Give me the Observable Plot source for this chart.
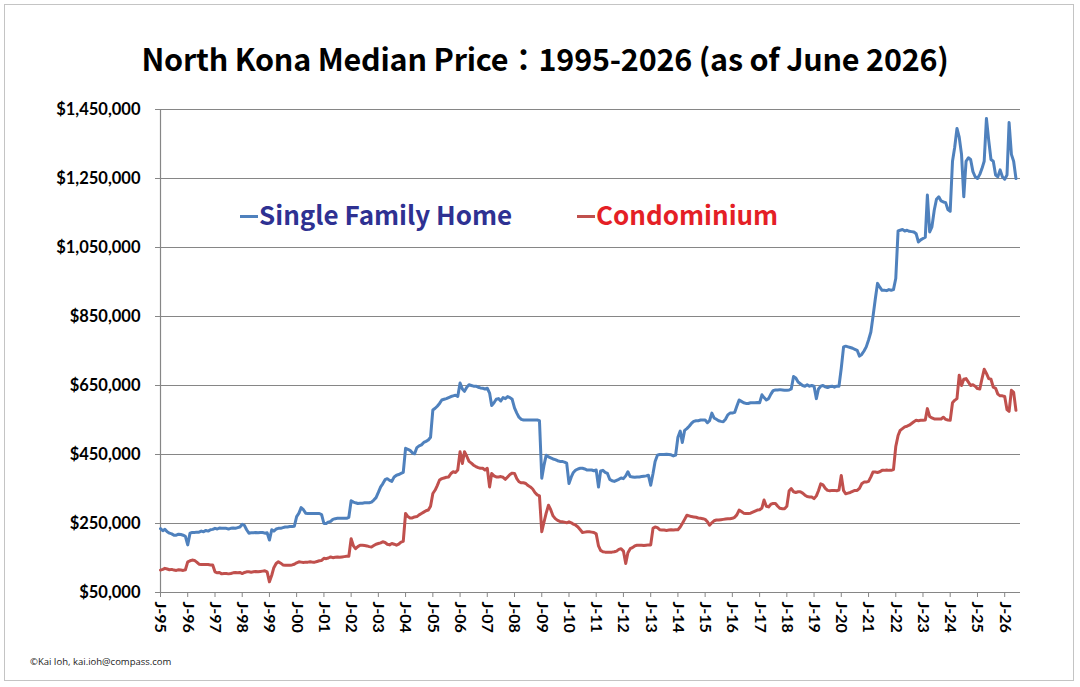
<!DOCTYPE html>
<html>
<head>
<meta charset="utf-8">
<script src="https://cdn.jsdelivr.net/npm/d3@7"></script>
<script src="https://cdn.jsdelivr.net/npm/@observablehq/plot@0.6"></script>
<style>
  html, body { margin: 0; padding: 0; background: #fff; }
  #page {
    position: relative; width: 1080px; height: 687px; overflow: hidden; background: #fff;
  }
  #border {
    position: absolute; left: 4px; top: 4px; width: 1070px; height: 677px;
    border: 1.5px solid #c4c4c4; box-sizing: border-box;
  }
  #title {
    position: absolute; left: 0; top: 36px; width: 1090px; text-align: center;
    font-family: "Noto Sans CJK JP", "Noto Sans", sans-serif; font-weight: 700;
    font-size: 30.5px; color: #000; letter-spacing: -0.2px;
  }
  #chart { position: absolute; left: 0; top: 95px; }
  .legend {
    position: absolute; top: 195px;
    font-family: "Noto Sans CJK JP", "Noto Sans", sans-serif; font-weight: 700; font-size: 26px;
    white-space: nowrap;
  }
  .swatch { display: inline-block; width: 18px; height: 3px; vertical-align: middle; margin-right: 1px; position: relative; top: -1px; }
  #footer {
    position: absolute; left: 30px; top: 655px;
    font-family: "Open Sans", sans-serif; font-size: 9.5px; color: #222;
  }
</style>
</head>
<body>
<div id="page">
  <div id="border"></div>
  <div id="title">North Kona Median Price：1995-2026 (as of June 2026)</div>
  <div id="chart"></div>
  <div class="legend" id="legSfh" style="left:240px;color:#2e3192"><span class="swatch" style="background:#4f81bd"></span>Single Family Home</div>
  <div class="legend" id="legCondo" style="left:577px;color:#e41f26"><span class="swatch" style="background:#c0504d"></span>Condominium</div>
  <div id="footer">©Kai Ioh, kai.ioh@compass.com</div>
</div>
<script>
// Monthly median prices in $ thousands, January 1995 through June 2026 (one row per year)
const startYear = 1995;

const singleFamily = [
  235, 229, 233, 226, 222, 220, 216, 216, 219, 218, 216, 213,
  188, 222, 224, 224, 225, 225, 228, 226, 230, 228, 232, 233,
  236, 234, 237, 236, 236, 236, 234, 236, 237, 236, 238, 240,
  248, 244, 232, 222, 223, 223, 224, 223, 224, 224, 222, 223,
  202, 232, 228, 234, 236, 236, 238, 240, 240, 241, 241, 242,
  270, 280, 296, 290, 280, 279, 279, 279, 279, 279, 279, 276,
  250, 250, 254, 256, 262, 264, 265, 265, 265, 265, 265, 268,
  316, 312, 310, 308, 309, 309, 310, 310, 310, 312, 318, 325,
  340, 356, 365, 377, 380, 375, 372, 385, 390, 392, 395, 398,
  468, 465, 462, 455, 452, 470, 475, 478, 485, 488, 492, 500,
  579, 584, 590, 598, 608, 610, 612, 615, 618, 620, 622, 618,
  657, 640, 633, 645, 652, 650, 648, 648, 645, 643, 642, 640,
  642, 628, 592, 600, 610, 612, 605, 615, 612, 618, 615, 610,
  585, 570, 558, 552, 550, 550, 550, 550, 550, 550, 550, 548,
  381, 420, 448, 443, 440, 437, 435, 432, 430, 430, 428, 425,
  366, 385, 398, 405, 408, 410, 410, 408, 405, 405, 405, 403,
  405, 356, 402, 404, 398, 395, 378, 374, 372, 375, 378, 382,
  380, 388, 400, 386, 385, 384, 385, 385, 386, 387, 388, 390,
  361, 395, 430, 448, 450, 450, 450, 451, 450, 449, 446, 448,
  500, 518, 485, 520, 525, 532, 540, 546, 548, 548, 550, 550,
  550, 542, 548, 570, 556, 552, 548, 546, 545, 552, 565, 570,
  570, 572, 590, 608, 604, 600, 598, 598, 600, 600, 600, 601,
  600, 623, 615, 608, 612, 625, 635, 637, 637, 638, 637, 636,
  636, 637, 640, 676, 672, 660, 655, 650, 648, 652, 648, 650,
  648, 612, 640, 648, 650, 646, 644, 647, 648, 645, 648, 648,
  700, 762, 764, 762, 760, 758, 755, 752, 735, 740, 750, 762,
  782, 805, 849, 900, 946, 935, 926, 926, 925, 928, 926, 928,
  960, 1098, 1100, 1102, 1098, 1100, 1097, 1096, 1095, 1090, 1066, 1072,
  1076, 1080, 1202, 1095, 1110, 1158, 1190, 1197, 1185, 1182, 1180, 1160,
  1155, 1300, 1340, 1395, 1370, 1320, 1197, 1300, 1310, 1305, 1270, 1255,
  1250, 1262, 1278, 1300, 1424, 1360, 1305, 1300, 1260, 1255, 1275, 1255,
  1248, 1260, 1412, 1320, 1300, 1250
];

const condominium = [
  115, 117, 120, 118, 116, 117, 115, 114, 116, 115, 114, 116,
  139, 142, 144, 143, 138, 132, 131, 131, 131, 131, 130, 130,
  110, 107, 108, 104, 105, 105, 104, 105, 107, 108, 107, 108,
  105, 108, 110, 110, 109, 110, 111, 110, 111, 112, 113, 110,
  81, 100, 122, 134, 139, 135, 130, 129, 129, 129, 130, 132,
  136, 139, 138, 137, 138, 138, 139, 138, 138, 140, 142, 143,
  149, 148, 150, 153, 151, 152, 153, 152, 153, 154, 155, 155,
  206, 185, 177, 183, 187, 187, 186, 185, 183, 182, 186, 190,
  192, 194, 197, 195, 190, 188, 192, 190, 187, 190, 196, 198,
  279, 270, 266, 266, 269, 270, 275, 279, 283, 287, 289, 300,
  337, 347, 360, 376, 380, 382, 384, 385, 395, 400, 398, 405,
  458, 424, 458, 445, 430, 425, 419, 415, 412, 410, 410, 405,
  410, 356, 395, 388, 385, 385, 386, 384, 378, 385, 392, 396,
  395, 380, 371, 368, 368, 366, 360, 356, 350, 340, 333, 330,
  226, 255, 280, 303, 290, 272, 264, 259, 256, 255, 254, 252,
  255, 252, 248, 245, 240, 232, 224, 225, 226, 226, 225, 224,
  220, 185, 172, 168, 167, 167, 167, 167, 168, 170, 175, 177,
  170, 134, 165, 177, 180, 185, 187, 187, 187, 186, 187, 188,
  188, 236, 240, 238, 232, 231, 231, 230, 231, 232, 231, 232,
  232, 240, 250, 262, 274, 272, 270, 269, 268, 266, 265, 264,
  262, 255, 245, 252, 258, 260, 260, 261, 262, 263, 264, 264,
  265, 268, 275, 289, 285, 280, 279, 279, 280, 283, 286, 289,
  290, 295, 318, 300, 298, 306, 308, 308, 300, 294, 293, 293,
  300, 345, 351, 342, 340, 342, 342, 338, 332, 328, 327, 327,
  322, 330, 345, 365, 362, 352, 346, 345, 346, 346, 345, 347,
  389, 345, 336, 338, 340, 343, 346, 346, 352, 365, 370, 370,
  372, 385, 399, 399, 398, 400, 404, 404, 405, 404, 404, 406,
  473, 505, 520, 525, 530, 532, 535, 540, 545, 549, 548, 549,
  549, 550, 583, 560, 556, 553, 553, 553, 553, 558, 552, 550,
  549, 600, 607, 612, 680, 650, 668, 670, 660, 650, 652, 648,
  641, 640, 668, 697, 685, 670, 668, 645, 642, 625, 620, 620,
  618, 580, 575, 636, 630, 578
];

// Axis ticks: price gridlines and yearly January marks
const priceTicks = [50000, 250000, 450000, 650000, 850000, 1050000, 1250000, 1450000];
const yearTicks = d3.range(1995, 2027).map(y => new Date(Date.UTC(y, 0, 1)));

const toRows = (values, series) =>
  values.map((v, i) => ({date: new Date(Date.UTC(startYear, i, 1)), price: v * 1000, series}));

const rows = [...toRows(singleFamily, "Single Family Home"), ...toRows(condominium, "Condominium")];

const xDomain = [new Date(Date.UTC(1995, 0, 1)), new Date(Date.UTC(2026, 7, 1))];
const fmtPrice = d3.format("$,");

const chart = Plot.plot({
  width: 1080,
  height: 555,
  marginLeft: 160,
  marginRight: 60,
  marginTop: 14,
  marginBottom: 58,
  style: {fontFamily: "Lato, sans-serif", fontWeight: "bold", fontSize: "16px", color: "#000", background: "transparent"},
  x: {type: "utc", domain: xDomain, label: null},
  y: {domain: [50000, 1450000], label: null},
  color: {domain: ["Single Family Home", "Condominium"], range: ["#4f81bd", "#c0504d"]},
  marks: [
    Plot.ruleY(priceTicks, {stroke: "#868686", strokeWidth: 1.2}),
    Plot.ruleX([xDomain[0]], {y1: 50000, y2: 1450000, stroke: "#868686", strokeWidth: 1.2}),
    Plot.axisY({ticks: priceTicks, tickFormat: fmtPrice, tickSize: 5, tickPadding: 15,
      stroke: "#868686", fontSize: 16.5, label: null}),
    Plot.axisX({ticks: yearTicks, tickFormat: d => "J-" + String(d.getUTCFullYear()).slice(2),
      tickRotate: 90, tickSize: 5, tickPadding: 4, stroke: "#868686", fontSize: 16, label: null}),
    Plot.lineY(rows, {x: "date", y: "price", z: "series", stroke: "series",
      strokeWidth: 3, strokeLinejoin: "round", strokeLinecap: "round"})
  ]
});

document.getElementById("chart").appendChild(chart);
</script>
</body>
</html>
